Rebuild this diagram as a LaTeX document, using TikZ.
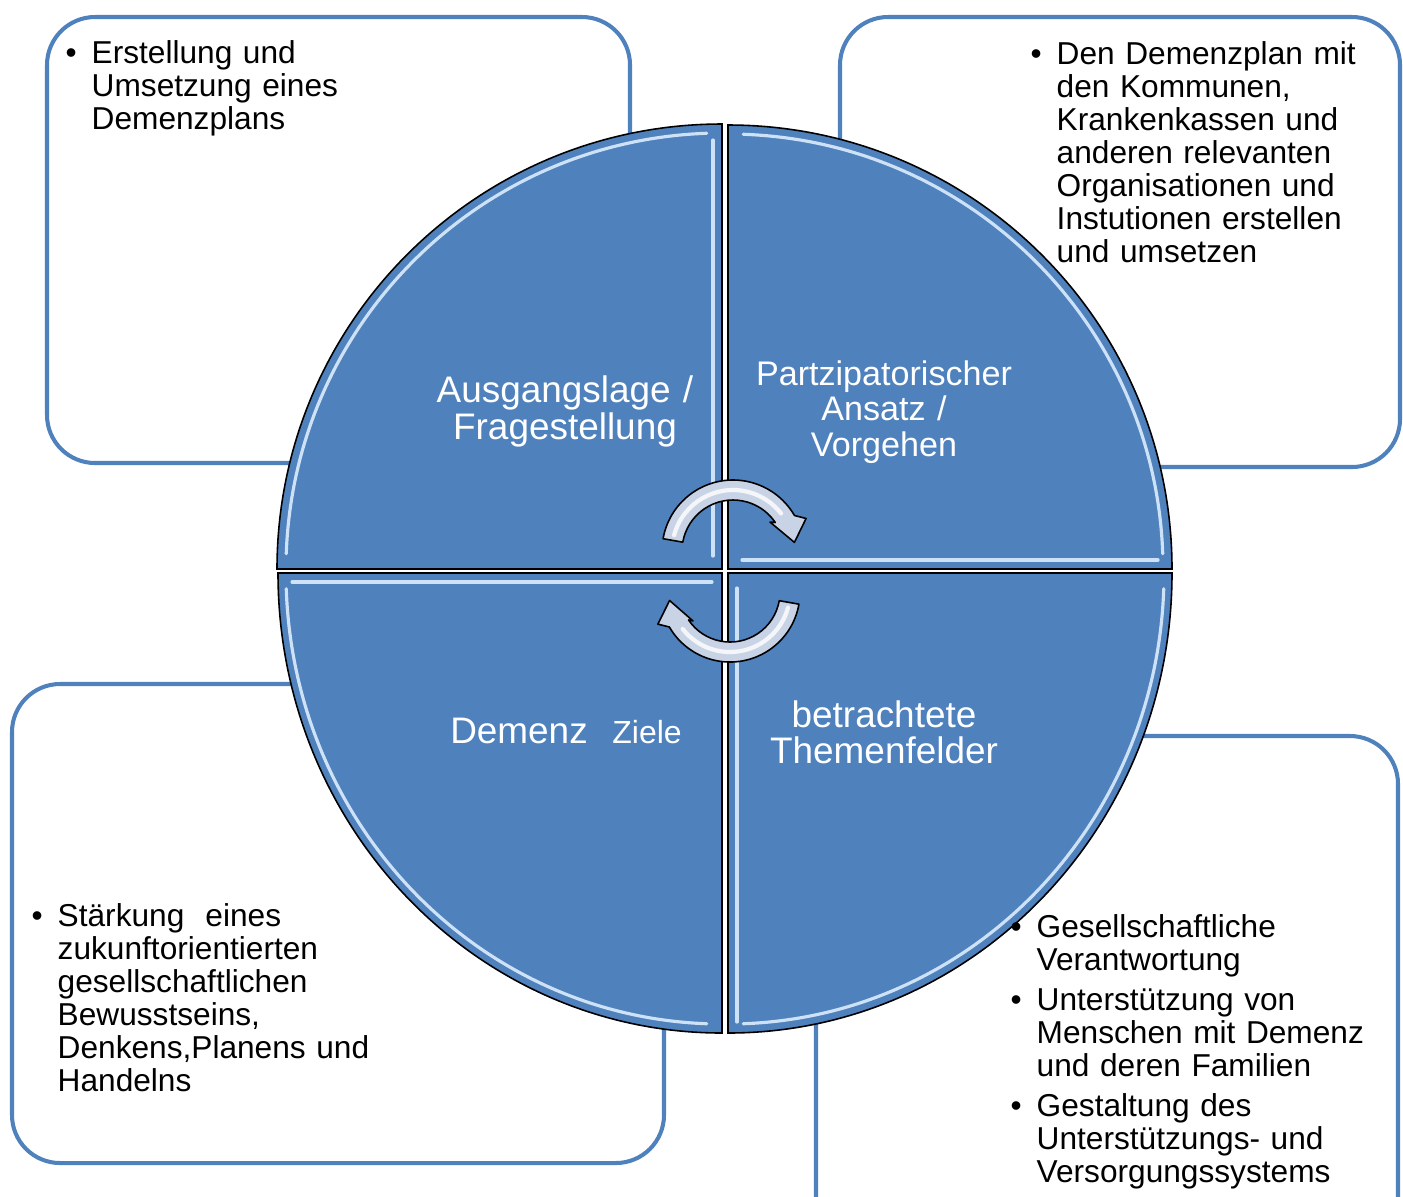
\documentclass[tikz,border=0pt]{standalone}
\usepackage{fontspec}
\setmainfont{Liberation Sans}
\definecolor{qblue}{RGB}{79,129,189}
\definecolor{hlblue}{RGB}{205,225,247}
\definecolor{arrfill}{RGB}{200,212,230}
\newlength\bulind
\setlength\bulind{7.4pt}
\newcommand{\bul}[1]{\noindent\hangindent=\bulind\hangafter=1\makebox[\bulind][l]{\textbullet}#1\par}
\begin{document}
\begin{tikzpicture}[x=0.01cm,y=-0.01cm,
  infobox/.style={draw=qblue,line width=1.15pt,rounded corners=0.48cm},
  quad/.style={fill=qblue,draw=black,line width=0.45pt},
  hl/.style={draw=hlblue,line width=0.9pt,line cap=round},
  boxtext/.style={anchor=base west,inner sep=0pt,text width=6cm,font=\fontsize{9.0}{9.4}\selectfont},
  qlabel/.style={anchor=base,inner sep=0pt,text width=4cm,align=center,text=white,font=\fontsize{10.5}{10.8}\selectfont},
  cyc/.style={fill=arrfill,draw=black,line width=0.45pt,line join=round}]
\useasboundingbox (0,0) rectangle (1403,1196);
\clip (0,0) rectangle (1403,1196);

% info boxes
\draw[infobox] (47,17) rectangle (630,463);
\draw[infobox] (840,17) rectangle (1400,467);
\draw[infobox] (12,684) rectangle (664,1163);
\draw[infobox] (816,736) rectangle (1398,1260);

% quadrants
\draw[quad] (722,569) -- (722,124) arc[start angle=270,end angle=180,radius=445] -- cycle;
\draw[quad] (728,569) -- (1172,569) arc[start angle=0,end angle=-90,radius=444] -- cycle;
\draw[quad] (722,573) -- (278,573) arc[start angle=180,end angle=90,x radius=444,y radius=460] -- cycle;
\draw[quad] (728,573) -- (728,1033) arc[start angle=90,end angle=0,x radius=444,y radius=460] -- cycle;

% bevel highlights
\draw[hl] (713,140) -- (713,556);
\draw[hl] (722,569) ++(268:436) arc[start angle=268,end angle=182,radius=436];
\draw[hl] (742,560) -- (1158,560);
\draw[hl] (728,569) ++(358:435) arc[start angle=358,end angle=272,radius=435];
\draw[hl] (292,582) -- (712,582);
\draw[hl] (722,573) ++(178:436 and 451) arc[start angle=178,end angle=92,x radius=436,y radius=451];
\draw[hl] (737,588) -- (737,1022);
\draw[hl] (728,573) ++(88:436 and 451) arc[start angle=88,end angle=2,x radius=436,y radius=451];

% cycle arrows
\begin{scope}[shift={(733,551)}]
\draw[cyc] (190:51) -- (190:71) arc[start angle=190,end angle=330,radius=71] -- (336:80) -- (352:62) -- (322:47) -- (326:51) arc[start angle=326,end angle=190,radius=51] -- cycle;
\draw[white,line width=1.2pt,opacity=0.8,line cap=round] (195:61) arc[start angle=195,end angle=322,radius=61];
\end{scope}
\begin{scope}[shift={(730,592)}]
\draw[cyc] (10:50) -- (10:70) arc[start angle=10,end angle=150,radius=70] -- (156:79) -- (172:61) -- (142:47) -- (146:50) arc[start angle=146,end angle=10,radius=50] -- cycle;
\draw[white,line width=1.2pt,opacity=0.8,line cap=round] (15:60) arc[start angle=15,end angle=142,radius=60];
\end{scope}

% box texts
\node[boxtext] (t1) at (65,63) {\bul{Erstellung und\newline Umsetzung eines\newline Demenzplans}};
\node[boxtext] (t2) at (1030,64) {\bul{Den Demenzplan mit\newline den Kommunen,\newline Krankenkassen und\newline anderen relevanten\newline Organisationen und\newline Instutionen erstellen\newline und umsetzen}};
\node[boxtext] (t3) at (31,926) {\bul{Stärkung\ \ eines\newline zukunftorientierten\newline gesellschaftlichen\newline Bewusstseins,\newline Denkens,Planens und\newline Handelns}};
\node[boxtext] (t4) at (1010,937) {\setlength\parskip{2pt}\bul{Gesellschaftliche\newline Verantwortung}\bul{Unterstützung von\newline Menschen mit Demenz\newline und deren Familien}\bul{Gestaltung des\newline Unterstützungs- und\newline Versorgungssystems}};

% quadrant labels
\node[qlabel] (q1) at (565,402) {Ausgangslage /\\Fragestellung};
\node[qlabel,font=\fontsize{9.7}{10.2}\selectfont] (q2) at (884,385) {Partzipatorischer\\Ansatz /\\Vorgehen};
\node[qlabel] (q3) at (566,743) {Demenz\ \ {\fontsize{9.1}{10}\selectfont Ziele}};
\node[qlabel,font=\fontsize{10.5}{10.3}\selectfont] (q4) at (884,727) {betrachtete\\Themenfelder};
\end{tikzpicture}
\end{document}
